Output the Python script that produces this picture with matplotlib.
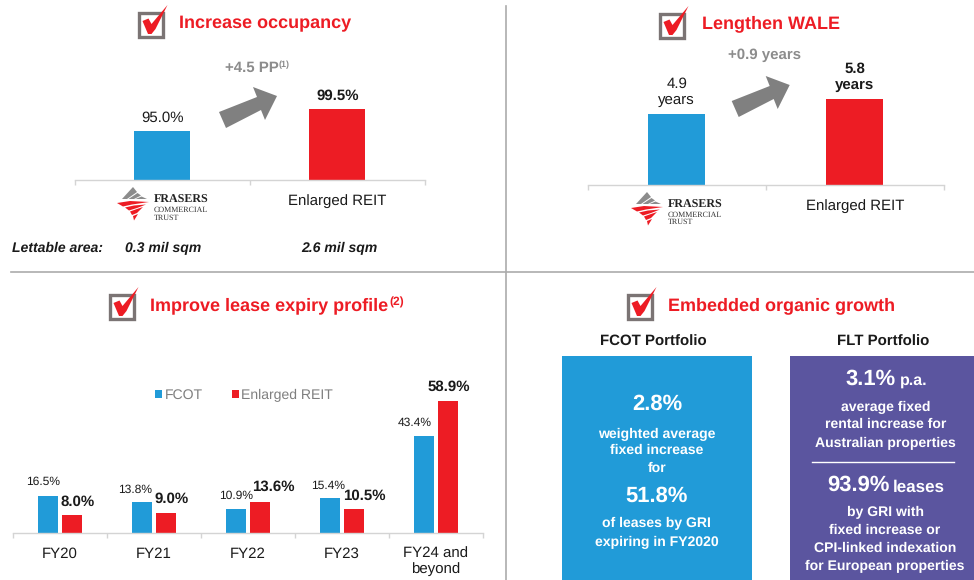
# slide with four panels: occupancy, WALE, lease expiry, organic growth
import matplotlib
matplotlib.use('Agg')
import matplotlib.pyplot as plt
from matplotlib.patches import Polygon, Rectangle

plt.rcParams['font.family'] = ['Liberation Sans', 'DejaVu Sans']
plt.rcParams['text.hinting'] = 'no_hinting'
plt.rcParams['text.hinting_factor'] = 1

W = 974
H = 580
BLUE = '#219bd8'
RED = '#ed1c24'
PURPLE = '#5b559f'
GREY = '#7f7f7f'
DARK = '#1a1a1a'
AXIS = '#d4d4d4'

# panel 1
occ_cats = ['', 'Enlarged REIT']
occ_vals = [95.0, 99.5]
occ_labels = ['95.0%', '99.5%']

# panel 2
wale_cats = ['', 'Enlarged REIT']
wale_vals = [4.9, 5.8]
wale_labels = ['4.9\nyears', '5.8\nyears']

# panel 3
fy_cats = ['FY20', 'FY21', 'FY22', 'FY23', 'FY24 and\nbeyond']
fcot_vals = [16.5, 13.8, 10.9, 15.4, 43.4]
reit_vals = [8.0, 9.0, 13.6, 10.5, 58.9]
# label nudges, pixels from bar centre
fcot_dx = [-5, -7, 0, -1.5, -8.5]
reit_dx = [6, 5.5, 14, 11, 1]
fcot_dy = [14, 12, 12.7, 13, 12.5]
reit_dy = [12.7, 13.5, 15.5, 13.7, 13.6]

fig = plt.figure(figsize=(W / 100, H / 100), dpi=100)


def make_ax(x0, x1, ybase, ytop, ylim, cats):
    ax = fig.add_axes([x0 / W, 1 - ybase / H, (x1 - x0) / W, (ybase - ytop) / H])
    ax.patch.set_alpha(0)
    n = len(cats)
    ax.set_xlim(-0.5, n - 0.5)
    ax.set_ylim(*ylim)
    for s in ['top', 'left', 'right']:
        ax.spines[s].set_visible(False)
    ax.spines['bottom'].set_color(AXIS)
    ax.spines['bottom'].set_linewidth(1.0)
    ax.set_yticks([])
    ax.set_xticks(range(n))
    ax.set_xticklabels(cats, fontsize=10.6, color=DARK, linespacing=1.1)
    ax.tick_params(axis='x', which='major', length=0, pad=10)
    ax.set_xticks([i - 0.5 for i in range(n + 1)], minor=True)
    ax.tick_params(axis='x', which='minor', length=3.5, width=1.0, color=AXIS)
    return ax


ax1 = make_ax(74.5, 425, 180.5, 80, (85, 105.5), occ_cats)
ax1.bar([0, 1], occ_vals, width=0.32, color=[BLUE, RED])
ax1.annotate(occ_labels[0], (0, occ_vals[0]), xytext=(0, 13.7), textcoords='offset pixels',
             ha='center', va='center', fontsize=10.6, color=DARK)
ax1.annotate(occ_labels[1], (1, occ_vals[1]), xytext=(0, 13.5), textcoords='offset pixels',
             ha='center', va='center', fontsize=10.6, color=DARK, fontweight='bold')

ax2 = make_ax(587.5, 944, 185, 80, (0.64, 6.94), wale_cats)
ax2.bar([0, 1], wale_vals, width=0.32, color=[BLUE, RED])
ax2.annotate(wale_labels[0], (0, wale_vals[0]), xytext=(0, 22), textcoords='offset pixels',
             ha='center', va='center', fontsize=10.6, color=DARK, linespacing=1.2)
ax2.annotate(wale_labels[1], (1, wale_vals[1]), xytext=(0, 22), textcoords='offset pixels',
             ha='center', va='center', fontsize=10.6, color=DARK, fontweight='bold', linespacing=1.2)

ax3 = make_ax(13, 482.5, 533, 380, (0, 68.15), fy_cats)
xs = list(range(len(fy_cats)))
b1 = ax3.bar([x - 0.128 for x in xs], fcot_vals, width=0.213, color=BLUE, label='FCOT')
b2 = ax3.bar([x + 0.128 for x in xs], reit_vals, width=0.213, color=RED, label='Enlarged REIT')
for i in xs:
    ax3.annotate('%.1f%%' % fcot_vals[i], (i - 0.128, fcot_vals[i]), xytext=(fcot_dx[i], fcot_dy[i]),
                 textcoords='offset pixels', ha='center', va='center', fontsize=8.6, color=DARK)
    ax3.annotate('%.1f%%' % reit_vals[i], (i + 0.128, reit_vals[i]), xytext=(reit_dx[i], reit_dy[i]),
                 textcoords='offset pixels', ha='center', va='center', fontsize=10.5, color=DARK,
                 fontweight='bold')

# overlay in pixel coordinates for everything that is not a chart
ov = fig.add_axes([0, 0, 1, 1], zorder=-1)
ov.set_xlim(0, W)
ov.set_ylim(H, 0)
ov.axis('off')
top = fig.add_axes([0, 0, 1, 1], zorder=5)
top.set_xlim(0, W)
top.set_ylim(H, 0)
top.axis('off')
top.patch.set_alpha(0)

ax3.legend(handles=[b1, b2], loc='center left', bbox_to_anchor=(155, 395), bbox_transform=top.transData,
           ncol=2, frameon=False, fontsize=10.1, labelcolor=GREY, handlelength=0.5, handleheight=0.5,
           handletextpad=0.2, columnspacing=2.05, borderpad=0, borderaxespad=0)

# dividers
ov.plot([505.5, 505.5], [6, 580], color='#ababab', lw=1.2)
ov.plot([11, 974], [272, 272], color='#ababab', lw=1.2)


def check_icon(x, y):
    top.add_patch(Rectangle((x + 1, y + 1), 24, 24, fill=False, ec='#7b7474', lw=2.4))
    pts = [(4.5, 9), (10.5, 6.5), (13.5, 12), (29.5, -7), (17.5, 17), (13.5, 22), (10, 22)]
    top.add_patch(Polygon([(x + a, y + b) for a, b in pts], fc=RED, ec='none'))


def arrow(dx, dy):
    pts = [(219, 112), (226, 128), (261, 110), (265, 120), (277, 96), (253, 87), (257, 97)]
    top.add_patch(Polygon([(a + dx, b + dy) for a, b in pts], fc='#808080', ec='none'))


def logo(dx, dy):
    greys = [[(122, 199), (133, 187), (137, 192), (127, 199)],
             [(128.5, 199), (137.5, 193), (141, 195.5), (134, 199)],
             [(135.5, 199), (141.5, 196.5), (147, 199)]]
    reds = [[(117, 203), (130, 201), (149, 202), (132, 204.5), (123, 206.5)],
            [(125, 207.5), (134, 205.5), (146, 204.5), (137, 208), (129, 210.5)],
            [(130, 211.5), (137, 209), (143, 207), (137, 213), (132, 215)],
            [(133, 216), (138, 214), (134, 220.5)]]
    for p in greys:
        top.add_patch(Polygon([(a + dx, b + dy) for a, b in p], fc='#8c8c8c', ec='none'))
    for p in reds:
        top.add_patch(Polygon([(a + dx, b + dy) for a, b in p], fc=RED, ec='none'))
    top.text(154 + dx, 199.5 + dy, 'FRASERS', family='Liberation Serif', fontweight='bold', fontsize=8.6,
             color='#222222', ha='left', va='center')
    top.text(154 + dx, 210 + dy, 'COMMERCIAL', family='Liberation Serif', fontsize=5.6,
             color='#333333', ha='left', va='center')
    top.text(154 + dx, 217.5 + dy, 'TRUST', family='Liberation Serif', fontsize=5.6,
             color='#333333', ha='left', va='center')


def txt(x, y, s, size, color=DARK, ha='center', **kw):
    top.text(x, y + 1, s, fontsize=size, color=color, ha=ha, va='center', **kw)


check_icon(138, 12)
check_icon(659, 13)
check_icon(109, 294)
check_icon(627, 294)

txt(179, 23, 'Increase occupancy', 13.1, RED, 'left', fontweight='bold')
txt(702, 23, 'Lengthen WALE', 13.1, RED, 'left', fontweight='bold')
txt(150, 305, 'Improve lease expiry profile', 13.05, RED, 'left', fontweight='bold')
txt(389.5, 301, '(2)', 8.5, RED, 'left', fontweight='bold')
txt(668, 305, 'Embedded organic growth', 13.1, RED, 'left', fontweight='bold')

arrow(0, 0)
arrow(512.7, -11)
logo(0, 0)
logo(514, 5)

txt(225, 66.5, '+4.5 PP', 10.7, '#8c8c8c', 'left', fontweight='bold')
txt(279, 64, '(1)', 6.5, '#8c8c8c', 'left', fontweight='bold')
txt(765, 54.5, '+0.9 years', 10.7, '#8c8c8c', fontweight='bold')

txt(12, 247, 'Lettable area:', 9.9, ha='left', fontweight='bold', fontstyle='italic')
txt(163, 247, '0.3 mil sqm', 9.9, fontweight='bold', fontstyle='italic')
txt(339, 247, '2.6 mil sqm', 9.9, fontweight='bold', fontstyle='italic')

# organic growth boxes
ov.add_patch(Rectangle((562, 356), 190, 224, fc=BLUE, ec='none'))
ov.add_patch(Rectangle((790, 356), 184, 224, fc=PURPLE, ec='none'))
txt(653, 340.5, 'FCOT Portfolio', 10.8, fontweight='bold')
txt(883, 340.5, 'FLT Portfolio', 10.8, fontweight='bold')

fcot_lines = ['weighted average', 'fixed increase', 'for']
fcot_y = [433, 449.5, 467]
for s, y in zip(fcot_lines, fcot_y):
    txt(657, y, s, 9.9, 'white', fontweight='bold')
txt(657, 403, '2.8%', 15.8, 'white', fontweight='bold')
txt(657, 495, '51.8%', 15.8, 'white', fontweight='bold')
txt(656.5, 522, 'of leases by GRI', 9.9, 'white', fontweight='bold')
txt(656.5, 541, 'expiring in FY2020', 9.9, 'white', fontweight='bold')

txt(845, 378, '3.1%', 15.8, 'white', 'left', fontweight='bold')
txt(900, 380, 'p.a.', 11.3, 'white', 'left', fontweight='bold')
flt_lines = ['average fixed', 'rental increase for', 'Australian properties']
flt_y = [406.5, 423.5, 442]
for s, y in zip(flt_lines, flt_y):
    txt(885.5, y, s, 9.9, 'white', fontweight='bold')
top.plot([812, 954], [461.7, 461.7], color='white', lw=1)
txt(827, 484, '93.9%', 15.8, 'white', 'left', fontweight='bold')
txt(893, 486, 'leases', 12, 'white', 'left', fontweight='bold')
flt2_lines = ['by GRI with', 'fixed increase or', 'CPI-linked indexation', 'for European properties']
flt2_y = [511, 529, 547, 565]
for s, y in zip(flt2_lines, flt2_y):
    txt(885, y, s, 9.9, 'white', fontweight='bold')

fig.savefig('out.png', dpi=100)
